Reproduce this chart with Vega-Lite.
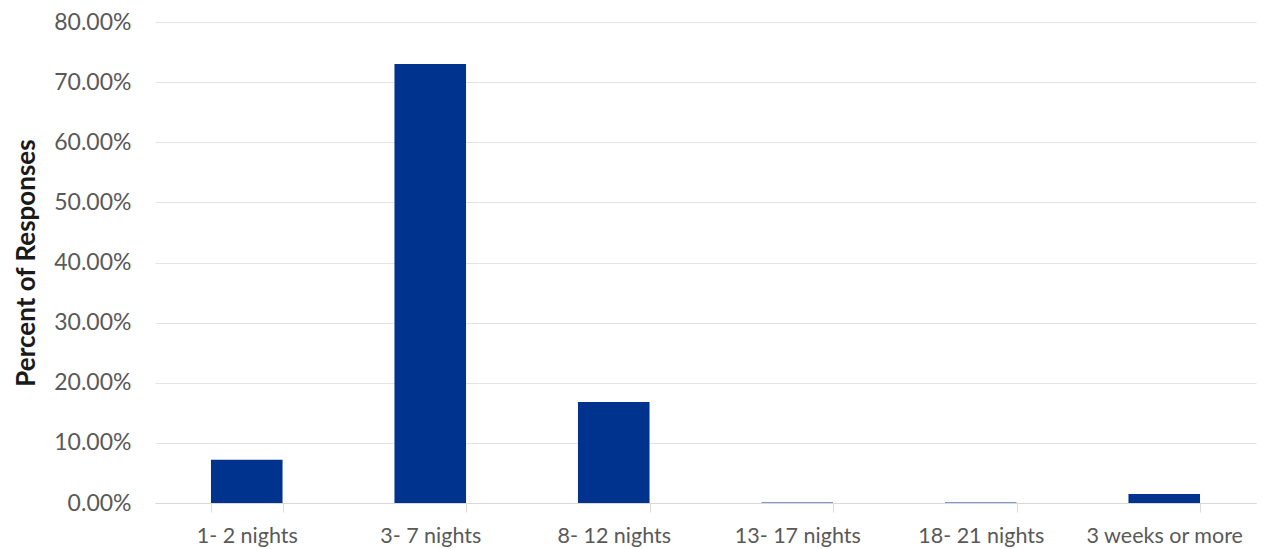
{
  "$schema": "https://vega.github.io/schema/vega-lite/v6.json",
  "width": 1101,
  "height": 481,
  "autosize": {"type": "none"},
  "padding": {"left": 155, "top": 22, "right": 20, "bottom": 46},
  "background": "white",
  "config": {"view": {"stroke": null}},
  "data": {
    "values": [
      {"stay": "1- 2 nights", "pct": 0.072},
      {"stay": "3- 7 nights", "pct": 0.730},
      {"stay": "8- 12 nights", "pct": 0.168},
      {"stay": "13- 17 nights", "pct": 0.001},
      {"stay": "18- 21 nights", "pct": 0.001},
      {"stay": "3 weeks or more", "pct": 0.015}
    ]
  },
  "mark": {"type": "bar", "color": "#00338D"},
  "encoding": {
    "x": {
      "field": "stay",
      "type": "nominal",
      "sort": null,
      "scale": {"paddingInner": 0.61, "paddingOuter": 0.305},
      "axis": {
        "title": null,
        "labelAngle": 0,
        "labelFont": "Lato",
        "labelFontSize": 21.5,
        "labelColor": "#595959",
        "labelPadding": 13,
        "domainColor": "#D9D9D9",
        "tickColor": "#D9D9D9",
        "tickSize": 9,
        "tickBand": "extent",
        "grid": false
      }
    },
    "y": {
      "field": "pct",
      "type": "quantitative",
      "scale": {"domain": [0, 0.8]},
      "axis": {
        "title": "Percent of Responses",
        "titleFont": "Lato",
        "titleFontSize": 26,
        "titleFontWeight": "bold",
        "titleColor": "#1a1a1a",
        "titlePadding": 14,
        "format": ".2%",
        "values": [0, 0.1, 0.2, 0.3, 0.4, 0.5, 0.6, 0.7, 0.8],
        "labelFont": "Lato",
        "labelFontSize": 23,
        "labelColor": "#595959",
        "labelPadding": 24,
        "domain": false,
        "ticks": false,
        "gridColor": "#E3E3E3",
        "gridWidth": 1
      }
    }
  }
}
